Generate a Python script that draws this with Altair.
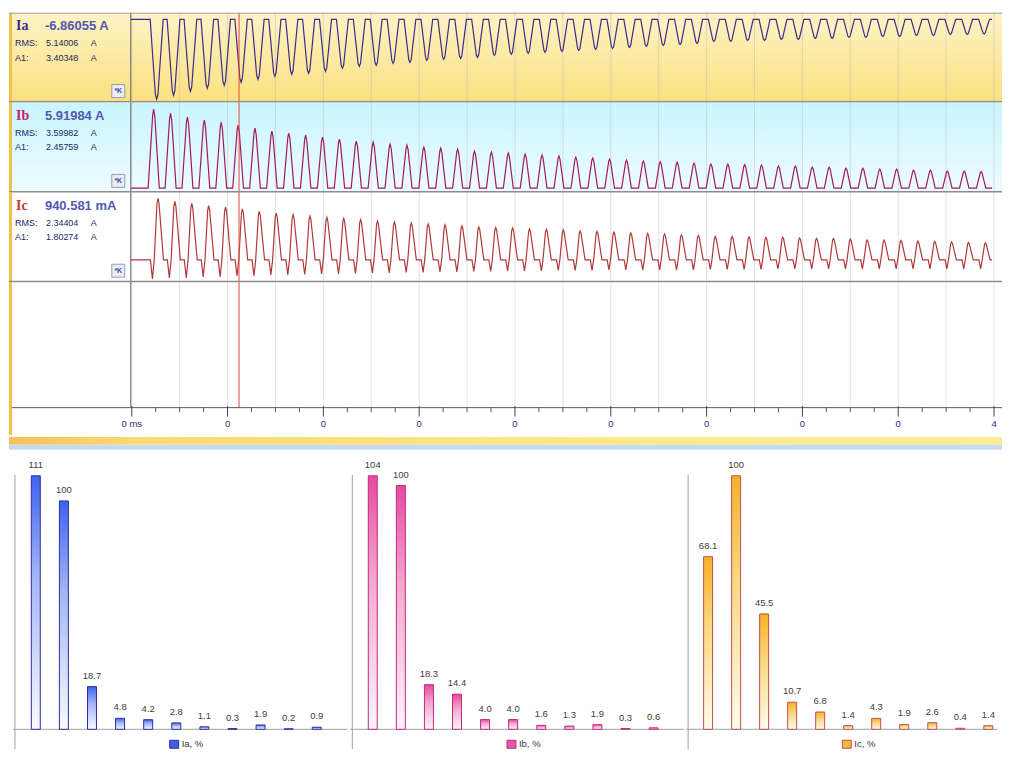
import altair as alt
import pandas as pd

# ---------------- waveform data (per-cycle peak amplitudes, A) ----------------
ia_peak = [8.89, 8.44, 8.00, 7.67, 7.33, 7.00, 6.67, 6.33, 6.11, 6.00,
           5.78, 5.44, 5.22, 5.11, 4.89, 4.78, 4.56, 4.44, 4.33, 4.22,
           4.00, 3.89, 3.78, 3.67, 3.56, 3.44, 3.33, 3.22, 3.11, 3.00,
           2.89, 2.78, 2.67, 2.44, 2.44, 2.33, 2.33, 2.22, 2.22, 2.11,
           2.11, 2.00, 2.00, 1.89, 1.89, 1.78, 1.78, 1.67, 1.67, 1.61]
ib_peak = [8.78, 8.33, 7.89, 7.56, 7.33, 7.00, 6.67, 6.33, 6.11, 5.89,
           5.67, 5.44, 5.22, 5.11, 4.89, 4.78, 4.56, 4.44, 4.33, 4.11,
           4.00, 3.89, 3.78, 3.67, 3.56, 3.44, 3.33, 3.22, 3.11, 3.00,
           2.94, 2.89, 2.78, 2.67, 2.67, 2.61, 2.56, 2.44, 2.44, 2.33,
           2.33, 2.22, 2.22, 2.11, 2.11, 2.00, 2.00, 1.89, 1.89, 1.83]
ic_peak = [6.86, 6.52, 6.30, 6.04, 5.89, 5.67, 5.41, 5.22, 5.04, 4.89,
           4.74, 4.61, 4.48, 4.33, 4.22, 4.11, 4.00, 3.89, 3.78, 3.67,
           3.61, 3.56, 3.44, 3.39, 3.33, 3.22, 3.17, 3.11, 3.00, 2.94,
           2.89, 2.78, 2.72, 2.61, 2.61, 2.56, 2.50, 2.50, 2.44, 2.39,
           2.39, 2.33, 2.22, 2.22, 2.17, 2.11, 2.06, 2.00, 1.94, 1.89]
ic_dip = [2.11, 2.00, 2.00, 1.89, 1.89, 1.78, 1.78, 1.67, 1.67, 1.61,
          1.56, 1.56, 1.50, 1.44, 1.44, 1.39, 1.39, 1.33, 1.33, 1.28,
          1.28, 1.22, 1.22, 1.22, 1.17, 1.17, 1.17, 1.11, 1.11, 1.11,
          1.11, 1.11, 1.11, 1.06, 1.06, 1.06, 1.06, 1.00, 1.00, 1.00,
          1.00, 1.00, 1.00, 1.00, 1.00, 1.00, 1.00, 1.00, 1.00, 1.00]

# time in axis divisions (one labelled step = 1 division)
ia_t0, ib_t0, ic_t0 = 0.260, 0.229, 0.274
period = 0.17625
trace_start, trace_end = -0.01, 8.98
cursor_t = [1.12]
tick_vals = [0, 1, 2, 3, 4, 5, 6, 7, 8, 9]
tick_labels = ["0 ms", "0", "0", "0", "0", "0", "0", "0", "0", "4"]
minor_vals = [i * 0.25 for i in range(37) if i % 4 != 0]
grid_vals = [i * 0.5 for i in range(19)]

names = ["Ia", "Ib", "Ic"]
inst_values = ["-6.86055 A", "5.91984 A", "940.581 mA"]
rms_values = ["5.14006", "3.59982", "2.34404"]
a1_values = ["3.40348", "2.45759", "1.80274"]

# ---------------- harmonic bars ----------------
harm_freq = [0, 50, 100, 150, 200, 250, 300, 350, 400, 450, 500]
ia_h = [111, 100, 18.7, 4.8, 4.2, 2.8, 1.1, 0.3, 1.9, 0.2, 0.9]
ib_h = [104, 100, 18.3, 14.4, 4.0, 4.0, 1.6, 1.3, 1.9, 0.3, 0.6]
ic_h = [68.1, 100, 45.5, 10.7, 6.8, 1.4, 4.3, 1.9, 2.6, 0.4, 1.4]
legend_names = ["Ia, %", "Ib, %", "Ic, %"]

# ---------------- layout constants ----------------
W = 995
PXA = 9.0
one = pd.DataFrame({"k": [0]})
xscale = alt.Scale(domain=[(8 - 131) / 96, (8 + W - 131) / 96], nice=False, zero=False)
FONT = "Liberation Sans"


def build_trace(t0, peaks, shape, dips=None):
    rows = [(trace_start, 0.0)]
    a0 = peaks[0]
    for i, a in enumerate(peaks):
        w = 0.8 + 0.2 * a / a0
        tc = t0 + i * period
        for dx, fp, fd in shape:
            v = fp * a - (fd * dips[i] if dips is not None else 0.0)
            rows.append((tc + dx * w / 96.0, v))
    rows.append((trace_end, 0.0))
    return pd.DataFrame({"t": [r[0] for r in rows], "v": [r[1] for r in rows],
                         "i": list(range(len(rows)))})


ia_shape = [(-6.5, 0, 0), (-1.3, -0.94, 0), (0, -1, 0), (1.3, -0.94, 0), (6.5, 0, 0)]
ib_shape = [(-5.6, 0, 0), (-1.0, 0.93, 0), (0, 1, 0), (1.2, 0.9, 0), (5.6, 0, 0)]
ic_shape = [(-7.6, 0, 0), (-5.6, 0, 1), (-3.8, 0, 0), (-1.0, 0.92, 0), (0, 1, 0),
            (1.0, 0.92, 0), (5.5, 0, 0)]

ia_df = build_trace(ia_t0, ia_peak, ia_shape)
ib_df = build_trace(ib_t0, ib_peak, ib_shape)
ic_df = build_trace(ic_t0, ic_peak, ic_shape, ic_dip)

grid_df = pd.DataFrame({"g": grid_vals})
cursor_df = pd.DataFrame({"c": cursor_t})
major_df = pd.DataFrame({"t": tick_vals, "lab": tick_labels})
minor_df = pd.DataFrame({"t": minor_vals})


def vgrad(c1, c2):
    return alt.Gradient(gradient="linear", x1=0, x2=0, y1=0, y2=1,
                        stops=[alt.GradientStop(color=c1, offset=0),
                               alt.GradientStop(color=c2, offset=1)])


def txt(s, x, y, size, color, weight="normal", font=FONT, align="left", baseline="alphabetic"):
    return alt.Chart(one).mark_text(text=s, fontSize=size, color=color, fontWeight=weight,
                                    font=font, align=align, baseline=baseline).encode(
        x=alt.value(x), y=alt.value(y))


def vrule(x, y, y2, color, width=1.0):
    return alt.Chart(one).mark_rule(color=color, strokeWidth=width).encode(
        x=alt.value(x), y=alt.value(y), y2=alt.value(y2))


def hrule(y, x, x2, color, width=1.0):
    return alt.Chart(one).mark_rule(color=color, strokeWidth=width).encode(
        y=alt.value(y), x=alt.value(x), x2=alt.value(x2))


def box(x, y, x2, y2, fill, stroke=None, sw=1.0):
    kw = dict(fill=fill)
    if stroke is not None:
        kw.update(stroke=stroke, strokeWidth=sw)
    return alt.Chart(one).mark_rect(**kw).encode(
        x=alt.value(x), x2=alt.value(x2), y=alt.value(y), y2=alt.value(y2))


def xenc(field):
    return alt.X(field + ":Q", scale=xscale, axis=None)


def strip(idx, df, color, base_px, H, bg, name_color, first=False):
    ylo = -(H - base_px) / PXA
    yhi = base_px / PXA
    layers = []
    if bg is not None:
        layers.append(box(0, 0, W, H, bg))
    layers.append(alt.Chart(grid_df).mark_rule(color="#b8b8b8", opacity=0.45).encode(
        x=xenc("g"), y=alt.value(0), y2=alt.value(H)))
    layers.append(alt.Chart(df).mark_line(color=color, strokeWidth=1.2).encode(
        x=xenc("t"),
        y=alt.Y("v:Q", scale=alt.Scale(domain=[ylo, yhi], nice=False, zero=False), axis=None),
        order=alt.Order("i:Q")))
    layers.append(alt.Chart(cursor_df).mark_rule(color="#e8463c", strokeWidth=1).encode(
        x=xenc("c"), y=alt.value(0), y2=alt.value(H)))
    layers.append(vrule(122, 0, H, "#666666", 1))
    layers.append(vrule(1.5, 0, H, "#f0c24a", 3))
    layers.append(txt(names[idx], 7, 17.5, 14, name_color, "bold", font="Liberation Serif"))
    layers.append(txt(inst_values[idx], 36, 17.5, 13, "#5458b4", "bold"))
    layers.append(txt("RMS:", 6, 33.5, 9, "#1c2766"))
    layers.append(txt(rms_values[idx], 37, 33.5, 9, "#1c2766"))
    layers.append(txt("A", 82, 33.5, 9, "#1c2766"))
    layers.append(txt("A1:", 6, 48, 9, "#1c2766"))
    layers.append(txt(a1_values[idx], 37, 48, 9, "#1c2766"))
    layers.append(txt("A", 82, 48, 9, "#1c2766"))
    layers.append(box(103, 72, 116, 85, "#ececf4", "#9a9ab4", 1))
    layers.append(txt("*K", 109.5, 78.5, 7, "#3050a0", "bold", align="center", baseline="middle"))
    if first:
        layers.append(hrule(0.5, 0, W, "#a0a0a0", 1))
    layers.append(hrule(H - 0.75, 0, W, "#8c8c8c", 1.5))
    return alt.layer(*layers).properties(width=W, height=H)


s_a = strip(0, ia_df, "#3b2c8e", 6.7, 90, vgrad("#fdf3c6", "#fbe07e"), "#3d2d8f", first=True)
s_b = strip(1, ib_df, "#a3195b", 85.7, 90, vgrad("#c9f5fe", "#eefcff"), "#c0206e")
s_c = strip(2, ic_df, "#b23838", 67.7, 90, None, "#c0392b")

# ---------------- time axis area ----------------
H2 = 172
AY = 125.7
band_grad = alt.Gradient(gradient="linear", x1=0, x2=1, y1=0, y2=0,
                         stops=[alt.GradientStop(color="#f7c05a", offset=0),
                                alt.GradientStop(color="#fbd870", offset=0.12),
                                alt.GradientStop(color="#fde684", offset=0.5),
                                alt.GradientStop(color="#fdec95", offset=1)])
axis_layers = [
    alt.Chart(grid_df).mark_rule(color="#c8c8c8", opacity=0.5).encode(
        x=xenc("g"), y=alt.value(0), y2=alt.value(AY)),
    alt.Chart(cursor_df).mark_rule(color="#e8463c", strokeWidth=1).encode(
        x=xenc("c"), y=alt.value(0), y2=alt.value(AY)),
    vrule(122, 0, AY, "#666666", 1),
    hrule(AY, 0, W, "#555555", 1),
    alt.Chart(major_df).mark_rule(color="#444444", strokeWidth=1).encode(
        x=xenc("t"), y=alt.value(AY - 1.5), y2=alt.value(AY + 9)),
    alt.Chart(minor_df).mark_rule(color="#555555", strokeWidth=1).encode(
        x=xenc("t"), y=alt.value(AY), y2=alt.value(AY + 4.5)),
    alt.Chart(major_df).mark_text(font="Liberation Sans Narrow, Liberation Sans, sans-serif",
                                  fontSize=9.5, color="#2d2d7d", baseline="middle",
                                  align="center").encode(
        x=xenc("t"), y=alt.value(142.5), text="lab:N"),
    vrule(1.5, 0, 153, "#f0c24a", 3),
    box(0, 155, W, 163, band_grad),
    box(0, 163, W, 168, "#c6daf2"),
]
axis_area = alt.layer(*axis_layers).properties(width=W, height=H2)

# ---------------- harmonic bar panels ----------------
HB = 296
BASE = 276
TOPPX = 254
panels = [
    dict(vals=ia_h, width=343, axis_x=6, c0=22.5, sw_x=161,
         cols=("#3f63ef", "#a3b5f6", "#fafbff"), stroke="#2b2f9e", sw_fill="#3f5fe6"),
    dict(vals=ib_h, width=337, axis_x=1, c0=17, sw_x=156,
         cols=("#e8499f", "#f3a6d0", "#fff5fb"), stroke="#c0287a", sw_fill="#e45aa8"),
    dict(vals=ic_h, width=315, axis_x=0.5, c0=16, sw_x=155,
         cols=("#f6b12a", "#fad780", "#fffbee"), stroke="#c0504a", sw_fill="#f6b640"),
]
bar_charts = []
for k, p in enumerate(panels):
    vals = p["vals"]
    labs = [f"{v:.0f}" if v >= 100 else f"{v:.1f}" for v in vals]
    df = pd.DataFrame({"f": harm_freq, "v": vals, "lab": labs})
    pxf = 29 / 50
    xs = alt.Scale(domain=[-p["c0"] / pxf, (p["width"] - p["c0"]) / pxf], nice=False, zero=False)
    kpx = TOPPX / max(vals)
    ys = alt.Scale(domain=[-(HB - BASE) / kpx, BASE / kpx], nice=False, zero=False)
    c1, c2, c3 = p["cols"]
    grad = alt.Gradient(gradient="linear", x1=0, x2=0, y1=0, y2=1,
                        stops=[alt.GradientStop(color=c1, offset=0),
                               alt.GradientStop(color=c2, offset=0.4),
                               alt.GradientStop(color=c3, offset=1)])
    xe = alt.X("f:Q", scale=xs,
               axis=alt.Axis(values=harm_freq, offset=-(HB - BASE), ticks=False, domain=False,
                             grid=False, labelFont=FONT, labelFontSize=9.5, labelColor="#3a3a3a",
                             labelPadding=4, title=None, labelFlush=False))
    layers = [
        vrule(p["axis_x"], 21, HB, "#a0a0a0", 1),
        alt.Chart(one).mark_rule(color="#a0a0a0", strokeWidth=1).encode(
            y=alt.Y(datum=0, scale=ys, axis=None), x=alt.value(p["axis_x"] - 2),
            x2=alt.value(p["width"] - 4)),
        alt.Chart(df).mark_bar(size=9, fill=grad, stroke=p["stroke"], strokeWidth=1).encode(
            x=xe, y=alt.Y("v:Q", scale=ys, axis=None), y2=alt.datum(0)),
        alt.Chart(df).mark_text(font=FONT, fontSize=9.5, color="#404040", baseline="middle",
                                dy=-11).encode(
            x=alt.X("f:Q", scale=xs, axis=None), y=alt.Y("v:Q", scale=ys, axis=None), text="lab:N"),
        box(p["sw_x"], 287, p["sw_x"] + 9, 295, p["sw_fill"], p["stroke"], 1),
        txt(legend_names[k], p["sw_x"] + 12, 291, 9.5, "#333333", baseline="middle"),
    ]
    bar_charts.append(alt.layer(*layers).properties(width=p["width"], height=HB))

bars_row = alt.hconcat(*bar_charts, spacing=0, bounds="flush").resolve_scale(
    x="independent", y="independent")

chart = alt.vconcat(s_a, s_b, s_c, axis_area, bars_row, spacing=0, bounds="flush").resolve_scale(
    x="independent", y="independent").properties(
    padding={"left": 0, "top": 2, "right": 0, "bottom": 0}, background="white"
).configure_view(strokeWidth=0, stroke="transparent")

chart.save("out.html", embed_options={"renderer": "svg", "actions": False})
